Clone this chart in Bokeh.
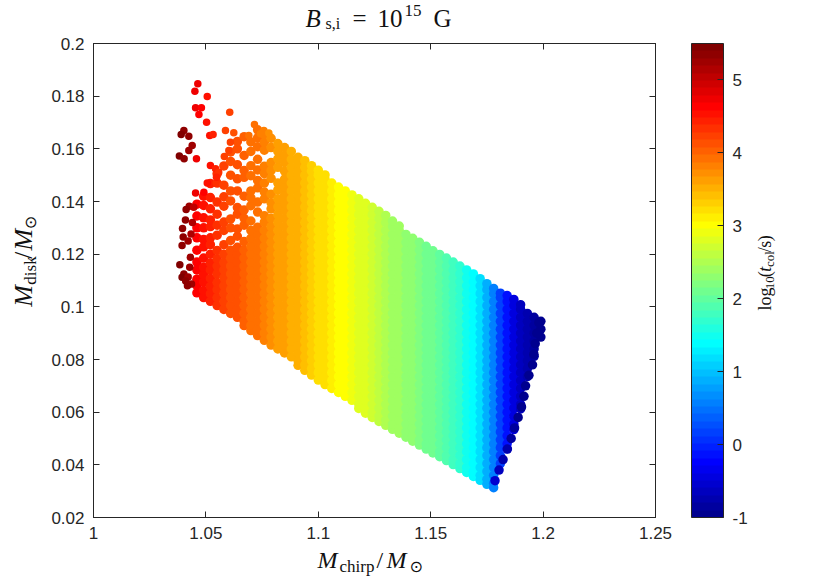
import math
from bokeh.plotting import figure
from bokeh.layouts import column, row
from bokeh.models import (ColumnDataSource, LinearColorMapper, ColorBar, FixedTicker,
                          LinearAxis, Label, CustomJSTickFormatter, Range1d)
from bokeh.embed import file_html
from bokeh.resources import INLINE

# ---------------- data ----------------
chirp_cols = [1.046, 1.049, 1.052, 1.055, 1.058, 1.061, 1.064, 1.067, 1.070, 1.073,
              1.076, 1.079, 1.082, 1.085, 1.088, 1.091, 1.094, 1.097, 1.100, 1.103,
              1.106, 1.109, 1.112, 1.115, 1.118, 1.121, 1.124, 1.127, 1.130, 1.133,
              1.136, 1.139, 1.142, 1.145, 1.148, 1.151, 1.154, 1.157, 1.160, 1.163,
              1.166, 1.169, 1.172, 1.175, 1.178, 1.181, 1.184, 1.187, 1.190, 1.193,
              1.196, 1.199]
logt_cols = [4.65, 4.55, 4.45, 4.35, 4.25, 4.15, 4.08, 4.0, 3.95, 3.88,
             3.8, 3.73, 3.65, 3.6, 3.53, 3.47, 3.4, 3.33, 3.25, 3.18,
             3.1, 3.05, 3.0, 2.92, 2.85, 2.78, 2.68, 2.6, 2.52, 2.45,
             2.38, 2.32, 2.26, 2.2, 2.14, 2.07, 1.98, 1.88, 1.78, 1.65,
             1.52, 1.38, 1.15, 0.85, 0.55, 0.2, -0.15, -0.4, -0.6, -0.75,
             -0.88, -0.95]
# disk masses seen in each chirp-mass column, in units of 1e-4 M_sun
disk_cols_e4 = [
    [1053, 1080, 1105, 1140, 1170, 1215, 1262, 1300, 1345, 1390],
    [1035, 1062, 1095, 1122, 1150, 1185, 1228, 1256, 1300, 1338, 1385, 1420],
    [1021, 1050, 1078, 1108, 1140, 1166, 1200, 1236, 1262, 1305, 1330, 1372, 1415, 1468],
    [1005, 1035, 1065, 1092, 1125, 1155, 1183, 1214, 1272, 1310, 1352, 1398, 1470, 1505],
    [990, 1020, 1050, 1080, 1110, 1140, 1168, 1200, 1236, 1290, 1322, 1382, 1418, 1462, 1535],
    [975, 1005, 1035, 1065, 1095, 1125, 1155, 1185, 1215, 1252, 1300, 1334, 1402, 1440, 1500, 1552, 1588],
    [960, 990, 1020, 1050, 1080, 1110, 1140, 1170, 1200, 1226, 1268, 1296, 1352, 1377, 1440, 1486, 1540, 1600, 1628],
    [929, 945, 975, 1005, 1035, 1065, 1095, 1125, 1155, 1185, 1215, 1248, 1310, 1336, 1368, 1420, 1492, 1518, 1575, 1646],
    [910, 930, 960, 990, 1020, 1050, 1080, 1110, 1140, 1170, 1200, 1230, 1260, 1290, 1326, 1384, 1414, 1440, 1498, 1536, 1590, 1626],
    [891, 915, 945, 975, 1005, 1035, 1065, 1095, 1125, 1155, 1185, 1215, 1245, 1275, 1302, 1360, 1398, 1452, 1480, 1520, 1560, 1608, 1642, 1672],
    [873, 900, 930, 960, 990, 1020, 1050, 1080, 1110, 1140, 1170, 1200, 1230, 1260, 1290, 1322, 1346, 1410, 1436, 1470, 1506, 1534, 1595, 1625, 1655],
    [855, 885, 915, 945, 975, 1005, 1035, 1065, 1095, 1125, 1155, 1185, 1215, 1245, 1275, 1305, 1336, 1372, 1395, 1428, 1488, 1518, 1548, 1605, 1640],
    [840, 870, 900, 930, 960, 990, 1020, 1050, 1080, 1110, 1140, 1170, 1200, 1230, 1260, 1290, 1320, 1350, 1380, 1410, 1444, 1470, 1530, 1562, 1590, 1620],
    [825, 855, 885, 915, 945, 975, 1005, 1035, 1065, 1095, 1125, 1155, 1185, 1215, 1245, 1275, 1305, 1335, 1365, 1395, 1425, 1455, 1485, 1515, 1548, 1575, 1605],
    [810, 840, 870, 900, 930, 960, 990, 1020, 1050, 1080, 1110, 1140, 1170, 1200, 1230, 1260, 1290, 1320, 1350, 1380, 1410, 1440, 1470, 1500, 1530, 1560, 1590],
    [778, 795, 825, 855, 885, 915, 945, 975, 1005, 1035, 1065, 1095, 1125, 1155, 1185, 1215, 1245, 1275, 1305, 1335, 1365, 1395, 1425, 1455, 1485, 1515, 1545, 1568],
    [759, 780, 810, 840, 870, 900, 930, 960, 990, 1020, 1050, 1080, 1110, 1140, 1170, 1200, 1230, 1260, 1290, 1320, 1350, 1380, 1410, 1440, 1470, 1500, 1530, 1555],
    [741, 765, 795, 825, 855, 885, 915, 945, 975, 1005, 1035, 1065, 1095, 1125, 1155, 1185, 1215, 1245, 1275, 1305, 1335, 1365, 1395, 1425, 1455, 1485, 1515, 1536],
    [722, 750, 780, 810, 840, 870, 900, 930, 960, 990, 1020, 1050, 1080, 1110, 1140, 1170, 1200, 1230, 1260, 1290, 1320, 1350, 1380, 1410, 1440, 1470, 1500, 1519],
    [705, 735, 765, 795, 825, 855, 885, 915, 945, 975, 1005, 1035, 1065, 1095, 1125, 1155, 1185, 1215, 1245, 1275, 1305, 1335, 1365, 1395, 1425, 1455, 1485, 1501],
    [690, 720, 750, 780, 810, 840, 870, 900, 930, 960, 990, 1020, 1050, 1080, 1110, 1140, 1170, 1200, 1230, 1260, 1290, 1320, 1350, 1380, 1410, 1440, 1470],
    [675, 705, 735, 765, 795, 825, 855, 885, 915, 945, 975, 1005, 1035, 1065, 1095, 1125, 1155, 1185, 1215, 1245, 1275, 1305, 1335, 1365, 1395, 1425, 1455],
    [660, 690, 720, 750, 780, 810, 840, 870, 900, 930, 960, 990, 1020, 1050, 1080, 1110, 1140, 1170, 1200, 1230, 1260, 1290, 1320, 1350, 1380, 1410, 1440],
    [645, 675, 705, 735, 765, 795, 825, 855, 885, 915, 945, 975, 1005, 1035, 1065, 1095, 1125, 1155, 1185, 1215, 1245, 1275, 1305, 1335, 1365, 1395, 1425],
    [614, 630, 660, 690, 720, 750, 780, 810, 840, 870, 900, 930, 960, 990, 1020, 1050, 1080, 1110, 1140, 1170, 1200, 1230, 1260, 1290, 1320, 1350, 1380, 1410],
    [596, 615, 645, 675, 705, 735, 765, 795, 825, 855, 885, 915, 945, 975, 1005, 1035, 1065, 1095, 1125, 1155, 1185, 1215, 1245, 1275, 1305, 1335, 1365, 1393],
    [580, 600, 630, 660, 690, 720, 750, 780, 810, 840, 870, 900, 930, 960, 990, 1020, 1050, 1080, 1110, 1140, 1170, 1200, 1230, 1260, 1290, 1320, 1350, 1378],
    [565, 585, 615, 645, 675, 705, 735, 765, 795, 825, 855, 885, 915, 945, 975, 1005, 1035, 1065, 1095, 1125, 1155, 1185, 1215, 1245, 1275, 1305, 1335, 1363],
    [550, 570, 600, 630, 660, 690, 720, 750, 780, 810, 840, 870, 900, 930, 960, 990, 1020, 1050, 1080, 1110, 1140, 1170, 1200, 1230, 1260, 1290, 1320, 1347],
    [535, 555, 585, 615, 645, 675, 705, 735, 765, 795, 825, 855, 885, 915, 945, 975, 1005, 1035, 1065, 1095, 1125, 1155, 1185, 1215, 1245, 1275, 1305, 1326],
    [520, 540, 570, 600, 630, 660, 690, 720, 750, 780, 810, 840, 870, 900, 930, 960, 990, 1020, 1050, 1080, 1110, 1140, 1170, 1200, 1230, 1260, 1290, 1307],
    [505, 525, 555, 585, 615, 645, 675, 705, 735, 765, 795, 825, 855, 885, 915, 945, 975, 1005, 1035, 1065, 1095, 1125, 1155, 1185, 1215, 1245, 1275],
    [490, 510, 540, 570, 600, 630, 660, 690, 720, 750, 780, 810, 840, 870, 900, 930, 960, 990, 1020, 1050, 1080, 1110, 1140, 1170, 1200, 1230, 1260],
    [475, 495, 525, 555, 585, 615, 645, 675, 705, 735, 765, 795, 825, 855, 885, 915, 945, 975, 1005, 1035, 1065, 1095, 1125, 1155, 1185, 1215, 1245],
    [460, 480, 510, 540, 570, 600, 630, 660, 690, 720, 750, 780, 810, 840, 870, 900, 930, 960, 990, 1020, 1050, 1080, 1110, 1140, 1170, 1200, 1230],
    [445, 465, 495, 525, 555, 585, 615, 645, 675, 705, 735, 765, 795, 825, 855, 885, 915, 945, 975, 1005, 1035, 1065, 1095, 1125, 1155, 1185, 1213],
    [431, 450, 480, 510, 540, 570, 600, 630, 660, 690, 720, 750, 780, 810, 840, 870, 900, 930, 960, 990, 1020, 1050, 1080, 1110, 1140, 1170, 1199],
    [416, 435, 465, 495, 525, 555, 585, 615, 645, 675, 705, 735, 765, 795, 825, 855, 885, 915, 945, 975, 1005, 1035, 1065, 1095, 1125, 1155, 1185],
    [401, 420, 450, 480, 510, 540, 570, 600, 630, 660, 690, 720, 750, 780, 810, 840, 870, 900, 930, 960, 990, 1020, 1050, 1080, 1110, 1140, 1170],
    [386, 405, 435, 465, 495, 525, 555, 585, 615, 645, 675, 705, 735, 765, 795, 825, 855, 885, 915, 945, 975, 1005, 1035, 1065, 1095, 1125, 1155],
    [371, 390, 420, 450, 480, 510, 540, 570, 600, 630, 660, 690, 720, 750, 780, 810, 840, 870, 900, 930, 960, 990, 1020, 1050, 1080, 1110, 1140],
    [356, 375, 405, 435, 465, 495, 525, 555, 585, 615, 645, 675, 705, 735, 765, 795, 825, 855, 885, 915, 945, 975, 1005, 1035, 1065, 1095, 1125],
    [341, 360, 390, 420, 450, 480, 510, 540, 570, 600, 630, 660, 690, 720, 750, 780, 810, 840, 870, 900, 930, 960, 990, 1020, 1050, 1080, 1107],
    [326, 345, 375, 405, 435, 465, 495, 525, 555, 585, 615, 645, 675, 705, 735, 765, 795, 825, 855, 885, 915, 945, 975, 1005, 1035, 1065, 1088],
    [313, 330, 360, 390, 420, 450, 480, 510, 540, 570, 600, 630, 660, 690, 720, 750, 780, 810, 840, 870, 900, 930, 960, 990, 1020, 1050, 1070],
    [405, 435, 465, 495, 525, 555, 585, 615, 645, 675, 705, 735, 765, 795, 825, 855, 885, 915, 945, 975, 1005, 1035, 1052],
    [461, 480, 510, 540, 570, 600, 630, 660, 690, 720, 750, 780, 810, 840, 870, 900, 930, 960, 990, 1020, 1043],
    [534, 555, 585, 615, 645, 675, 705, 735, 765, 795, 825, 855, 885, 915, 945, 975, 1005, 1028],
    [612, 630, 660, 690, 720, 750, 780, 810, 840, 870, 900, 930, 960, 990, 1008],
    [735, 765, 795, 825, 855, 885, 915, 945, 975],
    [812, 840, 870, 900, 930, 960],
    [885, 915, 945],
]
# points along the high-mass (right) edge of the cloud
edge_chirp = [1.1786, 1.1804, 1.1822, 1.1841, 1.1858, 1.1873, 1.1889, 1.1904,
              1.1915, 1.1922, 1.1937, 1.1953, 1.1959, 1.1965, 1.1972, 1.1981]
edge_disk = [0.034, 0.038, 0.042, 0.046, 0.050, 0.054, 0.058, 0.062,
             0.066, 0.070, 0.074, 0.078, 0.082, 0.086, 0.090, 0.094]
edge_logt = [-0.5, -0.6, -0.7, -0.75, -0.85, -0.85, -0.9, -0.9,
             -0.9, -0.95, -0.95, -0.95, -0.95, -0.95, -0.95, -0.95]
# isolated points at the low-mass (upper left) end
sparse_chirp = [1.0402, 1.0390, 1.0424, 1.0439, 1.0424, 1.0382, 1.0403, 1.0426, 1.0412, 1.0409,
                1.0396, 1.0399, 1.0421, 1.0394, 1.0431, 1.0384, 1.0428, 1.0402, 1.0394, 1.0421,
                1.0410, 1.0436, 1.0418, 1.0434, 1.0446, 1.0440,
                1.0464, 1.0451, 1.0506, 1.0454, 1.0480, 1.0469, 1.0503, 1.0606, 1.0458, 1.0517,
                1.0532, 1.0587, 1.0624, 1.0520, 1.0543, 1.0557, 1.0547, 1.0506, 1.0491, 1.0454,
                1.0609, 1.0602, 1.0582, 1.0716, 1.0758, 1.0691, 1.0743, 1.0780]
sparse_disk = [0.1670, 0.1654, 0.1648, 0.1613, 0.1594, 0.1573, 0.1562, 0.1382, 0.1370, 0.1330,
               0.1297, 0.1265, 0.1250, 0.1233, 0.1188, 0.1160, 0.1150, 0.1125, 0.1112, 0.1113,
               0.1098, 0.1087, 0.1080, 0.1277, 0.1378, 0.1320,
               0.1847, 0.1819, 0.1799, 0.1756, 0.1756, 0.1730, 0.1701, 0.1739, 0.1562, 0.1651,
               0.1654, 0.1670, 0.1661, 0.1537, 0.1524, 0.1511, 0.1492, 0.1470, 0.1435, 0.1432,
               0.1625, 0.1594, 0.1571, 0.1692, 0.1670, 0.1651, 0.1657, 0.1660]
sparse_logt = [5.35, 5.4, 5.3, 5.2, 5.25, 5.4, 5.35, 5.2, 5.3, 5.3,
               5.35, 5.35, 5.25, 5.35, 5.2, 5.4, 5.2, 5.35, 5.4, 5.25,
               5.3, 5.2, 5.3, 5.15, 5.0, 5.1,
               4.7, 4.75, 4.55, 4.7, 4.6, 4.65, 4.55, 4.2, 4.7, 4.5,
               4.45, 4.25, 4.15, 4.5, 4.4, 4.35, 4.4, 4.55, 4.6, 4.7,
               4.2, 4.2, 4.25, 3.92, 3.82, 3.97, 3.85, 3.75]

x_ticks = [1, 1.05, 1.1, 1.15, 1.2, 1.25]
y_ticks = [0.02, 0.04, 0.06, 0.08, 0.1, 0.12, 0.14, 0.16, 0.18, 0.2]
cbar_ticks = [-1, 0, 1, 2, 3, 4, 5]
cbar_low, cbar_high = -1, 5.5

# ---------------- sources ----------------
xs, ys, cs = [], [], []
for xc, cc, col in zip(chirp_cols, logt_cols, disk_cols_e4):
    for yv in col:
        xs.append(xc)
        ys.append(yv / 1e4)
        cs.append(cc)
xs += edge_chirp
ys += edge_disk
cs += edge_logt
src = ColumnDataSource(dict(chirp=xs, disk=ys, logt=cs))
src_sparse = ColumnDataSource(dict(chirp=sparse_chirp, disk=sparse_disk, logt=sparse_logt))


def jet(m=64):
    n = math.ceil(m / 4)
    u = [i / n for i in range(1, n + 1)] + [1.0] * (n - 1) + [i / n for i in range(n, 0, -1)]
    g0 = math.ceil(n / 2) - (1 if m % 4 == 1 else 0)
    rows = [[0.0, 0.0, 0.0] for _ in range(m)]
    for k, val in enumerate(u):
        g = g0 + k + 1
        for ch, idx in ((0, g + n), (1, g), (2, g - n)):
            if 1 <= idx <= m:
                rows[idx - 1][ch] = val
    return ["#%02x%02x%02x" % tuple(int(round(255 * c)) for c in r) for r in rows]


mapper = LinearColorMapper(palette=jet(64), low=cbar_low, high=cbar_high)

AX = "#262626"
TXT = "#111111"
SANS = "Liberation Sans"
SERIF = "Liberation Serif"

# ---------------- geometry of the page ----------------
TOTAL_W = 828
BORDER_T = 10
TITLE_H = 43 - BORDER_T   # frame top at 43
LEFT_W = 43               # width of the y-label strip
BORDER_L = 50
FRAME_W, FRAME_H = 562, 474
BORDER_R = 93
BORDER_B = 29
RIGHT_W = TOTAL_W - LEFT_W - BORDER_L - FRAME_W - BORDER_R
BOTTOM_H = 580 - 43 - FRAME_H - BORDER_B

# ---------------- main plot ----------------
p = figure(x_range=(1, 1.25), y_range=(0.02, 0.2), frame_width=FRAME_W, frame_height=FRAME_H,
           min_border_left=BORDER_L, min_border_right=BORDER_R, min_border_top=BORDER_T,
           min_border_bottom=BORDER_B, output_backend="svg", toolbar_location=None)
p.xgrid.visible = False
p.ygrid.visible = False
p.outline_line_color = AX
p.background_fill_color = "white"
p.border_fill_color = "white"

p.scatter("chirp", "disk", source=src, size=9.5, marker="circle",
          fill_color={"field": "logt", "transform": mapper}, line_color=None)
p.scatter("chirp", "disk", source=src_sparse, size=7.5, marker="circle",
          fill_color={"field": "logt", "transform": mapper}, line_color=None)

fmt = CustomJSTickFormatter(code="""
var s = tick.toFixed(2);
s = s.replace(/0+$/, '').replace(/\\.$/, '');
return s;
""")
cbar_fmt = CustomJSTickFormatter(code="return String(tick);")


def style_axis(ax, show_labels=True):
    ax.major_tick_in = 6
    ax.major_tick_out = 0
    ax.minor_tick_in = 0
    ax.minor_tick_out = 0
    ax.minor_tick_line_color = None
    ax.axis_line_color = AX
    ax.major_tick_line_color = AX
    ax.major_label_text_font = SANS
    ax.major_label_text_font_size = "17px"
    ax.major_label_text_color = AX if show_labels else None
    ax.axis_label = None


p.xaxis.ticker = FixedTicker(ticks=x_ticks)
p.yaxis.ticker = FixedTicker(ticks=y_ticks)
p.xaxis.formatter = fmt
p.yaxis.formatter = fmt
style_axis(p.xaxis[0])
style_axis(p.yaxis[0])
p.xaxis.major_label_standoff = 9
p.yaxis.major_label_standoff = 9

top_ax = LinearAxis(ticker=FixedTicker(ticks=x_ticks), formatter=fmt)
style_axis(top_ax, False)
top_ax.major_label_standoff = 0
p.add_layout(top_ax, "above")
right_ax = LinearAxis(ticker=FixedTicker(ticks=y_ticks), formatter=fmt)
style_axis(right_ax, False)
right_ax.major_label_standoff = 0
p.add_layout(right_ax, "right")

cb = ColorBar(color_mapper=mapper, ticker=FixedTicker(ticks=cbar_ticks), formatter=cbar_fmt,
              width=32, height=FRAME_H, location=(36, 0), padding=0, margin=0,
              major_tick_in=6, major_tick_out=0, major_tick_line_color=AX,
              minor_tick_line_color=None, bar_line_color=AX,
              label_standoff=9, major_label_text_font=SANS,
              major_label_text_font_size="17px", major_label_text_color=AX,
              background_fill_color=None, border_line_color=None)
p.add_layout(cb, "right")


# ---------------- text strips (serif, math-like composition) ----------------
def text_strip(w, h):
    f = figure(width=w, height=h, x_range=Range1d(0, w), y_range=Range1d(h, 0),
               min_border=0, min_border_left=0, min_border_right=0, min_border_top=0,
               min_border_bottom=0, x_axis_type=None, y_axis_type=None,
               output_backend="svg", toolbar_location=None)
    f.outline_line_color = None
    f.background_fill_color = "white"
    f.border_fill_color = "white"
    f.xgrid.visible = False
    f.ygrid.visible = False
    f.title.visible = False
    return f


BASE_SHIFT = 0.35  # where the renderer puts the glyph baseline relative to the anchor (em)


def put(f, ox, oy, text, px, py, size, italic=False, rotated=False, font=SERIF):
    """px, py: wanted page position of the start of the glyph baseline."""
    if rotated:
        ax_, ay_ = px - BASE_SHIFT * size, py
        ang = math.pi / 2
    else:
        ax_, ay_ = px, py - BASE_SHIFT * size
        ang = 0.0
    f.add_layout(Label(x=ax_ - ox, y=ay_ - oy, text=text, text_font=font,
                       text_font_size="%dpx" % size,
                       text_font_style="italic" if italic else "normal",
                       text_color=TXT, angle=ang, text_align="left",
                       text_baseline="alphabetic"))


# title  B_{s,i} = 10^{15} G
t_fig = text_strip(TOTAL_W, TITLE_H)
put(t_fig, 0, 0, "B", 305, 27, 25, italic=True)
put(t_fig, 0, 0, "s,i", 325, 29, 16)
put(t_fig, 0, 0, "=", 352, 27, 25)
put(t_fig, 0, 0, "10", 377, 27, 25)
put(t_fig, 0, 0, "15", 404, 16, 17)
put(t_fig, 0, 0, "G", 433, 27, 25)

# y label (rotated)  M_disk / M_sun
side_h = BORDER_T + FRAME_H + BORDER_B
oy = TITLE_H
l_fig = text_strip(LEFT_W, side_h)
put(l_fig, 0, oy, "M", 32, 318, 26, italic=True, rotated=True)
put(l_fig, 0, oy, "disk", 36, 294, 17, rotated=True)
put(l_fig, 0, oy, "/", 32, 266, 25, rotated=True)
put(l_fig, 0, oy, "M", 32, 257, 26, italic=True, rotated=True)
put(l_fig, 0, oy, "\u2299", 36, 234, 16, rotated=True, font="DejaVu Sans")

# colour-bar label (rotated)  log10(t_col/s)
ox = LEFT_W + BORDER_L + FRAME_W + BORDER_R
r_fig = text_strip(RIGHT_W, side_h)
put(r_fig, ox, oy, "log", 769, 322, 18, rotated=True)
put(r_fig, ox, oy, "10", 772, 299, 13, rotated=True)
put(r_fig, ox, oy, "(", 769, 286, 18, rotated=True)
put(r_fig, ox, oy, "t", 769, 280, 18, italic=True, rotated=True)
put(r_fig, ox, oy, "col", 772, 275, 13, rotated=True)
put(r_fig, ox, oy, "/", 769, 259, 18, rotated=True)
put(r_fig, ox, oy, "s", 769, 254, 18, rotated=True)
put(r_fig, ox, oy, ")", 769, 247, 18, rotated=True)

# x label  M_chirp / M_sun
b_fig = text_strip(TOTAL_W, BOTTOM_H)
oyb = 43 + FRAME_H + BORDER_B
put(b_fig, 0, oyb, "M", 317, 568, 24, italic=True)
put(b_fig, 0, oyb, "chirp", 339, 572, 17)
put(b_fig, 0, oyb, "/", 376, 568, 24)
put(b_fig, 0, oyb, "M", 386, 568, 24, italic=True)
put(b_fig, 0, oyb, "\u2299", 409, 572, 16, font="DejaVu Sans")

layout = column(t_fig, row(l_fig, p, r_fig), b_fig)
open("out.html", "w").write(file_html(layout, INLINE))
